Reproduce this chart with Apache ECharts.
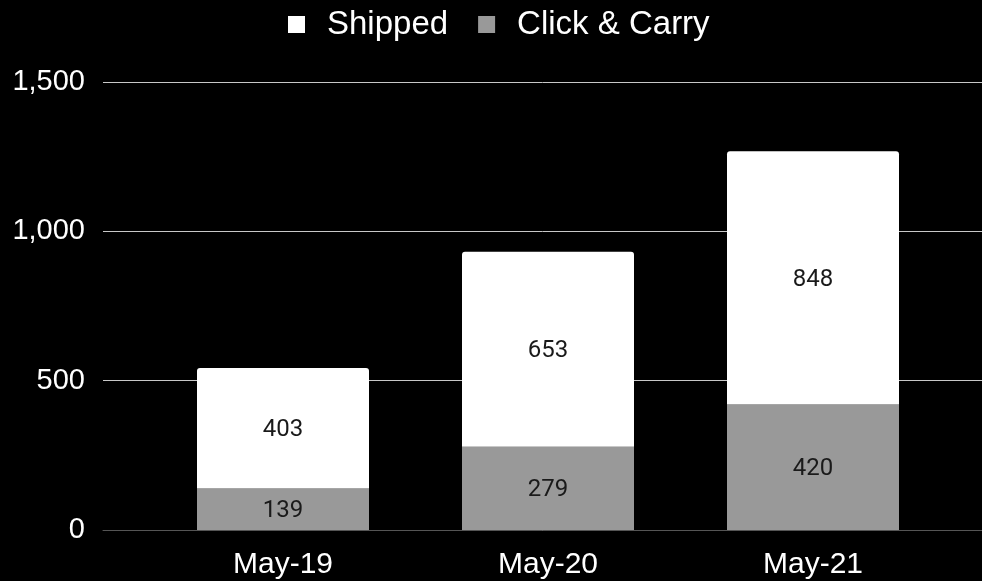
<!DOCTYPE html>
<html>
<head>
<meta charset="utf-8">
<script src="https://cdn.jsdelivr.net/npm/echarts@6/dist/echarts.min.js"></script>
<style>
  html, body { margin: 0; padding: 0; background: #000; }
  #chart { width: 982px; height: 581px; }
</style>
</head>
<body>
<div id="chart"></div>
<script>
const categories = ['May-19', 'May-20', 'May-21'];
const clickCarry = [139, 279, 420];
const shipped = [403, 653, 848];
const yTicks = { min: 0, max: 1500, interval: 500 };

const chart = echarts.init(document.getElementById('chart'), null, { renderer: 'canvas' });
const axisFont = '"Liberation Sans", Arial, sans-serif';
const labelFont = 'Roboto, "Noto Sans", sans-serif';

chart.setOption({
  backgroundColor: '#000',
  animation: false,
  legend: {
    data: ['Shipped', 'Click & Carry'],
    top: 3,
    left: 283,
    itemWidth: 17,
    itemHeight: 17,
    itemGap: 30,
    icon: 'rect',
    textStyle: {
      color: '#fff', fontSize: 33, fontFamily: axisFont,
      padding: [0, 0, 0, 17]
    }
  },
  grid: [
    { left: 103, right: 0, top: 82, bottom: 51 },
    { left: 150.5, right: 36.5, top: 82, bottom: 51 }
  ],
  xAxis: [
    {
      gridIndex: 0, type: 'category', data: categories,
      axisLine: { show: true, lineStyle: { color: '#555', width: 1 } },
      axisTick: { show: false }, axisLabel: { show: false }
    },
    {
      gridIndex: 1, type: 'category', data: categories,
      axisLine: { show: false }, axisTick: { show: false },
      axisLabel: { color: '#fff', fontSize: 30, fontFamily: axisFont, margin: 20 }
    }
  ],
  yAxis: [
    {
      gridIndex: 0, type: 'value', min: yTicks.min, max: yTicks.max, interval: yTicks.interval,
      axisLine: { show: false }, axisTick: { show: false },
      axisLabel: {
        color: '#fff', fontSize: 29, fontFamily: axisFont, margin: 18,
        formatter: v => v.toLocaleString('en-US')
      },
      splitLine: { lineStyle: { color: '#c8c8c8', width: 1 } }
    },
    {
      gridIndex: 1, type: 'value', min: yTicks.min, max: yTicks.max, interval: yTicks.interval,
      show: false, splitLine: { show: false }
    }
  ],
  series: [
    {
      name: 'Click & Carry', type: 'bar', stack: 'total',
      xAxisIndex: 1, yAxisIndex: 1,
      data: clickCarry, barWidth: 172,
      itemStyle: { color: '#999999' },
      label: { show: true, position: 'inside', offset: [0, 2], color: '#1a1a1a', fontSize: 24, fontFamily: labelFont }
    },
    {
      name: 'Shipped', type: 'bar', stack: 'total',
      xAxisIndex: 1, yAxisIndex: 1,
      data: shipped, barWidth: 172,
      itemStyle: { color: '#ffffff', borderRadius: [3, 3, 0, 0] },
      label: { show: true, position: 'inside', offset: [0, 2], color: '#1a1a1a', fontSize: 24, fontFamily: labelFont }
    }
  ]
});
</script>
</body>
</html>
